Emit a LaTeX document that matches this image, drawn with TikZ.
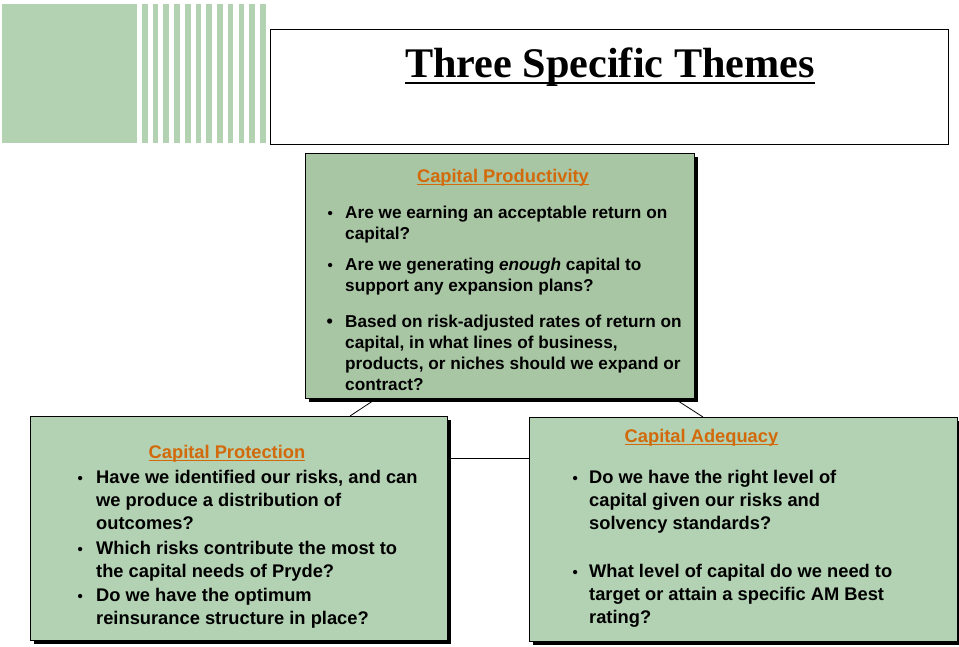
\documentclass[tikz,border=0pt]{standalone}
\usepackage{fontspec}
\usetikzlibrary{shadows,backgrounds,calc}
\newfontfamily\arialfont{Liberation Sans}
\newfontfamily\titlefont{Liberation Serif}
\definecolor{stripegreen}{RGB}{178,210,178}
\definecolor{topgreen}{RGB}{169,198,164}
\definecolor{boxgreen}{RGB}{179,209,179}
\definecolor{headorange}{RGB}{210,105,10}
\tikzset{
  themebox/.style={draw=black, line width=0.8pt, anchor=north west, inner sep=0pt,
    drop shadow={shadow xshift=4pt, shadow yshift=-4pt, fill=black, opacity=1}},
  headtext/.style={text=headorange, inner sep=0pt, anchor=base,
    font=\arialfont\bfseries\fontsize{18.3}{22}\selectfont},
  smalltext/.style={inner sep=0pt, anchor=base west, align=left,
    font=\arialfont\bfseries\fontsize{17.2}{21.3}\selectfont},
  bigtext/.style={inner sep=0pt, anchor=base west, align=left,
    font=\arialfont\bfseries\fontsize{18.3}{23.3}\selectfont},
  bulletmark/.style={inner sep=0pt, anchor=base west,
    font=\arialfont\bfseries\fontsize{15}{15}\selectfont},
  connector/.style={draw=black, line width=0.8pt},
  headline/.style={draw=headorange, line width=1.3pt}
}
\begin{document}
\begin{tikzpicture}[x=1pt,y=-1pt]
\useasboundingbox (0,0) rectangle (959,646);
% decorative block and stripes
\fill[stripegreen] (2,4) rectangle (137,142.5);
\foreach \i in {0,...,11}{
  \fill[stripegreen] ({142+10.73*\i},4) rectangle ({147.6+10.73*\i},142.5);
}
% title box
\node[draw=black, line width=1pt, anchor=north west, inner sep=0pt,
  minimum width=678pt, minimum height=115pt] (titlebox) at (270,29) {};
\node[inner sep=0pt, anchor=base, font=\titlefont\bfseries\fontsize{42.2}{50}\selectfont]
  (title) at (610,77) {Three Specific Themes};
\draw[line width=2.2pt] ($(title.base west)+(0,6)$) -- ($(title.base east)+(0,6)$);

% boxes
\node[themebox, fill=topgreen, minimum width=389pt, minimum height=245pt] (prod) at (305,153) {};
\node[themebox, fill=boxgreen, minimum width=417pt, minimum height=224pt] (prot) at (30,416) {};
\node[themebox, fill=boxgreen, minimum width=428pt, minimum height=224pt] (adeq) at (529,417) {};

% connectors
\begin{scope}[on background layer]
\coordinate (pl) at ($(prod.south west)+(68,2)$);
\coordinate (pr) at ($(prod.south east)+(-17,2)$);
\coordinate (ql) at ($(prot.north west)+(320,0)$);
\coordinate (qr) at ($(adeq.north west)+(174,0)$);
\coordinate (hl) at ($(prot.north east)+(0,42)$);
\coordinate (hr) at ($(adeq.north west)+(0,41)$);
\draw[connector] (pl) -- (ql);
\draw[connector] (pr) -- (qr);
\draw[connector] (hl) -- (hr);
\end{scope}

% Capital Productivity (text nodes are placed by the baseline of their last line)
\node[headtext] (h1) at (503,182) {Capital Productivity};
\draw[headline] ($(h1.base west)+(0,2.5)$) -- ($(h1.base east)+(0,2.5)$);
\node[bulletmark] (b11) at (327.5,218) {•};
\node[smalltext] (t11) at (345,239.3) {Are we earning an acceptable return on\\capital?};
\node[bulletmark] (b12) at (327.5,270) {•};
\node[smalltext] (t12) at (345,291.3) {Are we generating \textit{enough} capital to\\support any expansion plans?};
\node[bulletmark, font=\arialfont\bfseries\fontsize{18}{18}\selectfont] (b13) at (326.5,327) {•};
\node[smalltext] (t13) at (345,390.9) {Based on risk-adjusted rates of return on\\capital, in what lines of business,\\products, or niches should we expand or\\contract?};

% Capital Protection
\node[headtext] (h2) at (227,458) {Capital Protection};
\draw[headline] ($(h2.base west)+(0,2.5)$) -- ($(h2.base east)+(0,2.5)$);
\node[bulletmark] (b21) at (77.5,483) {•};
\node[bigtext] (t21) at (96,529.6) {Have we identified our risks, and can\\we produce a distribution of\\outcomes?};
\node[bulletmark] (b22) at (77.5,554) {•};
\node[bigtext] (t22) at (96,577.3) {Which risks contribute the most to\\the capital needs of Pryde?};
\node[bulletmark] (b23) at (77.5,601) {•};
\node[bigtext] (t23) at (96,624.3) {Do we have the optimum\\reinsurance structure in place?};

% Capital Adequacy
\node[headtext] (h3) at (701.5,442) {Capital Adequacy};
\draw[headline] ($(h3.base west)+(0,2.5)$) -- ($(h3.base east)+(0,2.5)$);
\node[bulletmark] (b31) at (572.5,483) {•};
\node[bigtext] (t31) at (589,529.6) {Do we have the right level of\\capital given our risks and\\solvency standards?};
\node[bulletmark] (b32) at (572.5,577) {•};
\node[bigtext] (t32) at (589,623.6) {What level of capital do we need to\\target or attain a specific AM Best\\rating?};
\end{tikzpicture}
\end{document}
